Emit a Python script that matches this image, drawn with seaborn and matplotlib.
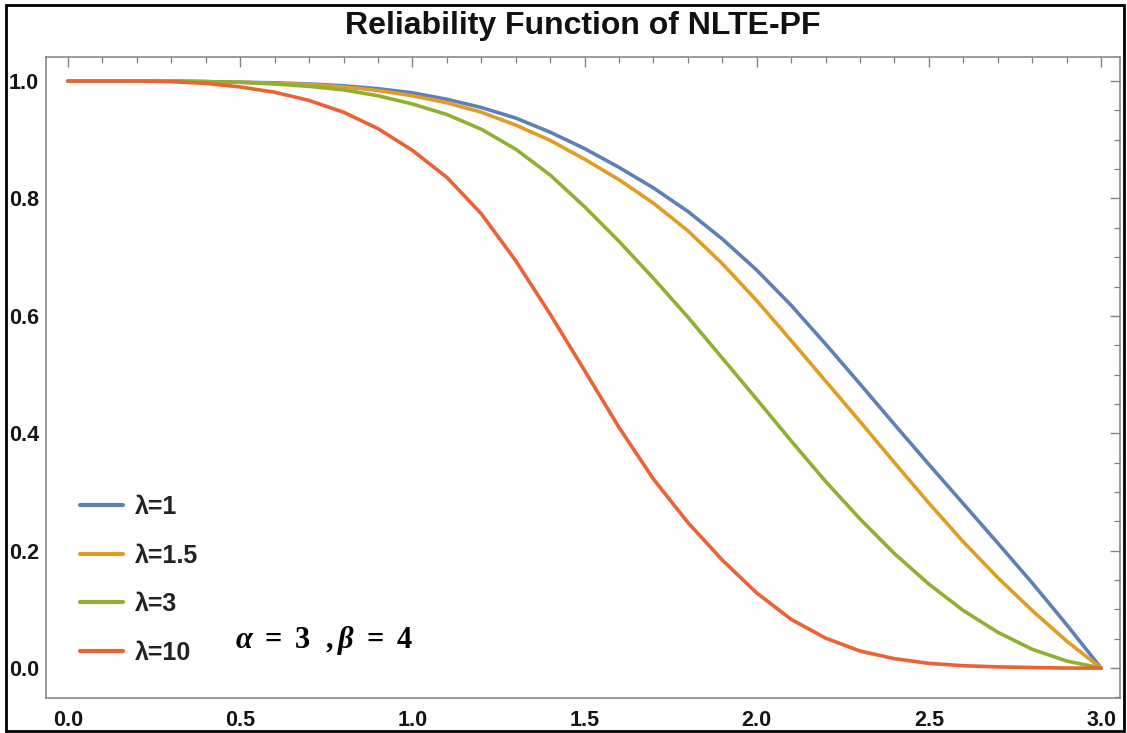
import matplotlib
matplotlib.use("Agg")
import matplotlib.pyplot as plt
from matplotlib.patches import Rectangle
from matplotlib.ticker import MultipleLocator
import seaborn as sns
import pandas as pd

# ---------------- data ----------------
x_vals = [0.0, 0.1, 0.2, 0.3, 0.4, 0.5, 0.6, 0.7, 0.8, 0.9,
          1.0, 1.1, 1.2, 1.3, 1.4, 1.5, 1.6, 1.7, 1.8, 1.9,
          2.0, 2.1, 2.2, 2.3, 2.4, 2.5, 2.6, 2.7, 2.8, 2.9, 3.0]

r_lam1 = [1.000, 1.000, 1.000, 1.000, 0.999, 0.998, 0.997, 0.995, 0.992, 0.987,
          0.980, 0.969, 0.955, 0.937, 0.913, 0.885, 0.853, 0.818, 0.778, 0.731,
          0.678, 0.618, 0.552, 0.484, 0.415, 0.347, 0.280, 0.213, 0.145, 0.074, 0.000]

r_lam15 = [1.000, 1.000, 1.000, 1.000, 0.999, 0.998, 0.996, 0.994, 0.990, 0.984,
           0.975, 0.963, 0.947, 0.925, 0.899, 0.867, 0.832, 0.792, 0.745, 0.689,
           0.626, 0.558, 0.489, 0.420, 0.350, 0.281, 0.215, 0.154, 0.098, 0.046, 0.000]

r_lam3 = [1.000, 1.000, 1.000, 1.000, 0.999, 0.998, 0.995, 0.991, 0.985, 0.975,
          0.961, 0.943, 0.918, 0.884, 0.840, 0.786, 0.727, 0.664, 0.598, 0.528,
          0.458, 0.387, 0.318, 0.254, 0.195, 0.143, 0.098, 0.061, 0.032, 0.012, 0.000]

r_lam10 = [1.000, 1.000, 1.000, 0.999, 0.996, 0.990, 0.981, 0.967, 0.947, 0.919,
           0.882, 0.836, 0.774, 0.694, 0.603, 0.507, 0.410, 0.322, 0.248, 0.184,
           0.128, 0.083, 0.051, 0.029, 0.016, 0.008, 0.004, 0.002, 0.001, 0.000, 0.000]

labels = ["λ=1", "λ=1.5", "λ=3", "λ=10"]
colors = ["#5E81B5", "#E19C24", "#8FB032", "#EB6235"]

x_ticks = [0.0, 0.5, 1.0, 1.5, 2.0, 2.5, 3.0]
y_ticks = [0.0, 0.2, 0.4, 0.6, 0.8, 1.0]

title_text = "Reliability Function of NLTE-PF"
note_text = r"$\alpha\ =\ 3\ \ ,\beta\ =\ 4$"

# ---------------- styling ----------------
sns.set_theme(style="white")
plt.rcParams["font.family"] = ["Liberation Sans", "DejaVu Sans"]
plt.rcParams["mathtext.fontset"] = "custom"
plt.rcParams["mathtext.rm"] = "Liberation Serif:bold"
plt.rcParams["mathtext.it"] = "Liberation Serif:italic:bold"
plt.rcParams["mathtext.bf"] = "Liberation Serif:bold"

df = pd.DataFrame({
    "x": x_vals * 4,
    "R": r_lam1 + r_lam15 + r_lam3 + r_lam10,
    "lam": sum([[lab] * len(x_vals) for lab in labels], []),
})

fig = plt.figure(figsize=(11.27, 7.33), dpi=100)
fig.patch.set_facecolor("white")
ax = fig.add_axes([46 / 1127, 1 - 698 / 733, (1120 - 46) / 1127, (698 - 57) / 733])
ax.set_facecolor("white")

sns.lineplot(data=df, x="x", y="R", hue="lam", hue_order=labels,
             palette=dict(zip(labels, colors)), linewidth=2.6,
             estimator=None, sort=False, ax=ax)
for ln in ax.get_lines():
    ln.set_solid_joinstyle("round")
    ln.set_solid_capstyle("round")

ax.set_xlim(-0.064, 3.055)
ax.set_ylim(-0.051, 1.041)
ax.set_xlabel("")
ax.set_ylabel("")

ax.xaxis.set_major_locator(MultipleLocator(0.5))
ax.xaxis.set_minor_locator(MultipleLocator(0.1))
ax.yaxis.set_major_locator(MultipleLocator(0.2))
ax.yaxis.set_minor_locator(MultipleLocator(0.05))
ax.set_xticks(x_ticks)
ax.set_yticks(y_ticks)
ax.set_xticklabels([f"{v:.1f}" for v in x_ticks])
ax.set_yticklabels([f"{v:.1f}" for v in y_ticks])

frame_col = "#808080"
for s in ax.spines.values():
    s.set_color(frame_col)
    s.set_linewidth(1.1)
    s.set_visible(True)

ax.tick_params(axis="both", which="both", direction="in", top=True, right=True,
               color=frame_col)
ax.tick_params(axis="both", which="major", length=7.5, width=1.0)
ax.tick_params(axis="both", which="minor", length=4.0, width=0.9)
ax.tick_params(axis="x", which="major", pad=9, labelsize=15.5, labelcolor="#151515")
ax.tick_params(axis="y", which="major", pad=5, labelsize=15.5, labelcolor="#151515")
for lab in ax.get_xticklabels() + ax.get_yticklabels():
    lab.set_fontweight("bold")

# legend
handles, labs = ax.get_legend_handles_labels()
leg = ax.legend(handles, labs, loc="lower left", bbox_to_anchor=(0.0317, 0.052),
                frameon=False, fontsize=18, handlelength=1.72, handletextpad=0.47,
                labelspacing=0.98, borderpad=0.0, borderaxespad=0.0)
for t in leg.get_texts():
    t.set_fontweight("bold")
    t.set_color("#222222")
for h in leg.get_lines():
    h.set_linewidth(3.0)

# parameter annotation
ax.text(0.485, 0.047, note_text, fontsize=22, color="black",
        ha="left", va="center")

# title
fig.text(583 / 1127, 1 - 26 / 733, title_text, ha="center", va="center",
         fontsize=23, fontweight="bold", color="#111111")

# outer black border
fig.patches.append(Rectangle((6 / 1127, 2 / 733), 1118 / 1127, 726 / 733,
                             transform=fig.transFigure, fill=False,
                             edgecolor="black", linewidth=2.0))

fig.savefig("out.png", dpi=100)
